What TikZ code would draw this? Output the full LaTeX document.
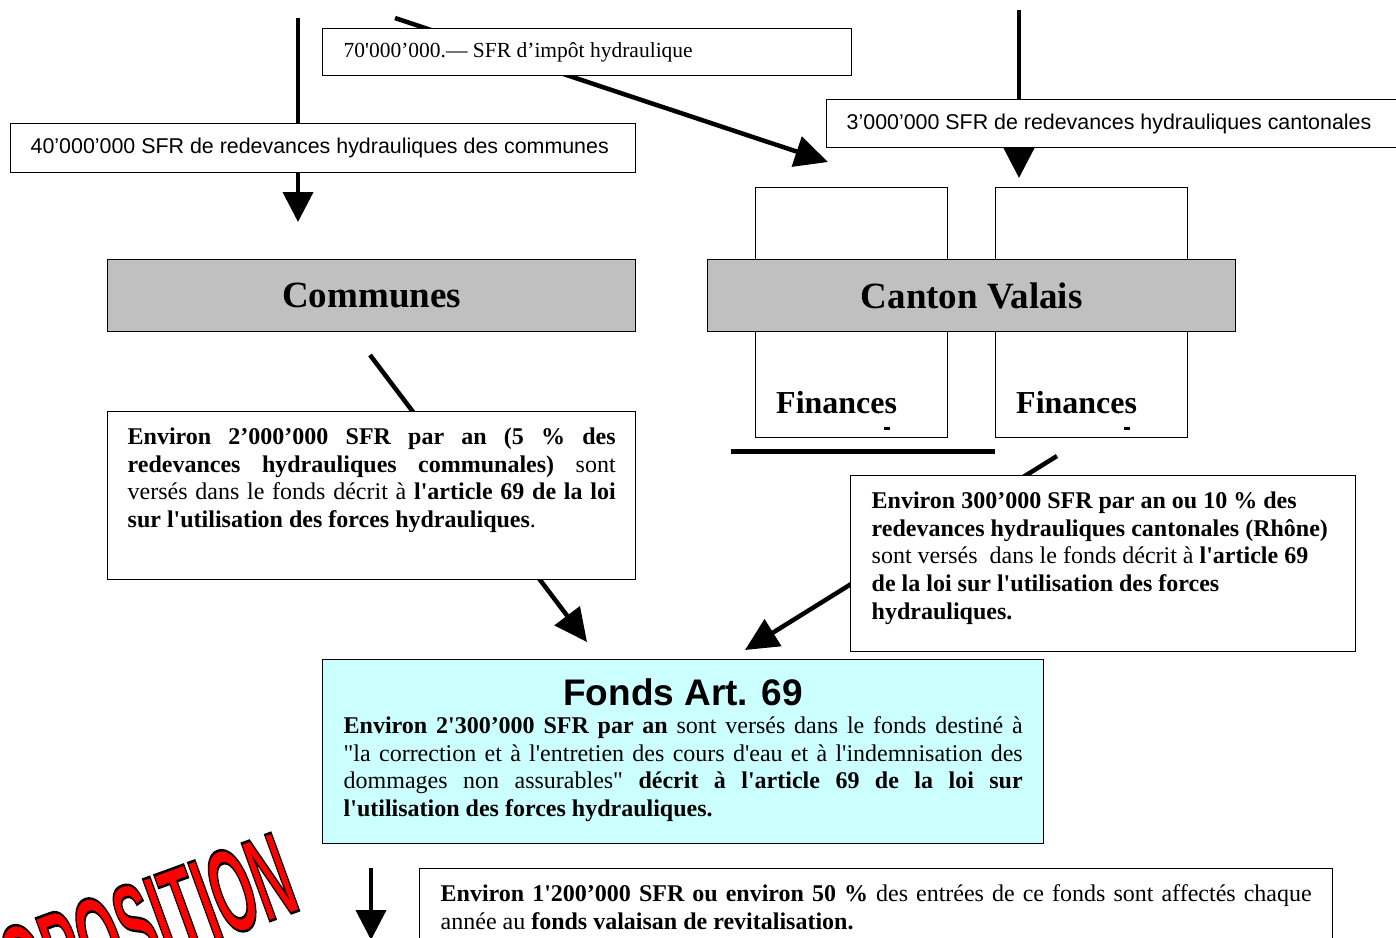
\documentclass[tikz,border=0pt]{standalone}
\usepackage{fontspec}
\setmainfont{Liberation Serif}
\newfontfamily\arialfont{Liberation Sans}
\usetikzlibrary{arrows.meta}
\definecolor{bandgrey}{HTML}{C0C0C0}
\definecolor{fondcyan}{HTML}{CCFFFF}
\definecolor{wordred}{HTML}{FF0000}
\newcommand{\sq}{\textquotesingle}
\newcommand{\dq}{\textquotedbl}
% red word art with black outline (PDF text rendering mode fill+stroke)
\newcommand{\wordartred}[1]{{\color{wordred}%
  \special{pdf:literal direct 0 0 0 RG 2.6 w 2 Tr}#1\special{pdf:literal direct 0 Tr}}}
\tikzset{
  box/.style={draw=black, line width=1.4pt, fill=white, inner sep=0pt, anchor=north west, rectangle},
  band/.style={box, fill=bandgrey, font=\bfseries\fontsize{37}{37}\selectfont},
  flow/.style={line width=4.5pt, -{Triangle[length=33pt,width=31pt]}},
  vflow/.style={line width=4pt, -{Triangle[length=30pt,width=30pt]}},
  body/.style={font=\fontsize{24}{27.8}\selectfont},
  arialtxt/.style={font=\arialfont\fontsize{21.4}{25}\selectfont},
  fin/.style={font=\bfseries\fontsize{32}{32}\selectfont, anchor=base west, inner sep=0pt},
}
\begin{document}
\begin{tikzpicture}[x=1pt,y=-1pt]
\useasboundingbox (0,0) rectangle (1396,937);
\clip (0,0) rectangle (1396,937);
\fill[white] (0,0) rectangle (1396,937);

% connector end points
\coordinate (a1s) at (298,18);   \coordinate (a1e) at (298,222);
\coordinate (a2s) at (395,18);   \coordinate (a2e) at (828,162);
\coordinate (a3s) at (1019,10);  \coordinate (a3e) at (1019,178);
\coordinate (a4s) at (370,355);  \coordinate (a4e) at (587,642);
\coordinate (a5s) at (1057,456); \coordinate (a5e) at (745,650);
\coordinate (a6s) at (371,868);  \coordinate (a6e) at (371,940);
\coordinate (bl1) at (731,451);  \coordinate (bl2) at (995,451);

% connectors (behind boxes)
\draw[vflow] (a1s) -- (a1e);
\draw[flow] (a2s) -- (a2e);
\draw[vflow] (a3s) -- (a3e);
\draw[flow] (a4s) -- (a4e);
\draw[flow] (a5s) -- (a5e);
\draw[vflow] (a6s) -- (a6e);
\draw[line width=5pt] (bl1) -- (bl2);

% top labels
\node[box, minimum width=529pt, minimum height=47pt, font=\fontsize{21.5}{25}\selectfont] (impot) at (322,28)
  {\parbox{487pt}{70\sq000’000.— SFR d’impôt hydraulique}};
\node[box, minimum width=625pt, minimum height=49pt, arialtxt] (redcom) at (10,123)
  {\parbox{585pt}{40’000’000 SFR de redevances hydrauliques des communes}};
\node[box, minimum width=600pt, minimum height=48pt, arialtxt] (redcant) at (826,99)
  {\parbox{560pt}{3’000’000 SFR de redevances hydrauliques cantonales}};

% Finances boxes
\node[box, minimum width=192pt, minimum height=250pt] (fin1) at (755,187) {};
\node[box, minimum width=192pt, minimum height=250pt] (fin2) at (995,187) {};
\node[fin] (fin1t) at (776,413) {Finances};
\node[fin] (fin2t) at (1016,413) {Finances};
\fill (884,427) rectangle (890,429.5);
\fill (1124,427) rectangle (1130,429.5);

% bands
\node[band, minimum width=528pt, minimum height=72pt] (communes) at (107,259) {Communes};
\node[band, minimum width=528pt, minimum height=72pt] (canton) at (707,259) {Canton Valais};

% communal box
\node[box, minimum width=528pt, minimum height=168pt, body] (comm) at (107,411)
  {\parbox[c][168pt][t]{488pt}{\vspace*{16pt}%
  \textbf{Environ 2’000’000 SFR par an (5 \% des\linebreak redevances hydrauliques communales)} sont\linebreak
  versés dans le fonds décrit à \textbf{l\sq article 69 de la loi\linebreak sur l\sq utilisation des forces hydrauliques}.}};

% cantonal box
\node[box, minimum width=505pt, minimum height=176pt, body] (cant) at (850,475)
  {\parbox[c][176pt][t]{463pt}{\raggedright\vspace*{16pt}%
  \textbf{Environ 300’000 SFR par an ou 10 \% des}\\
  \textbf{redevances hydrauliques cantonales (Rhône)}\\
  sont versés\ \ dans le fonds décrit à \textbf{l\sq article 69}\\
  \textbf{de la loi sur l\sq utilisation des forces}\\
  \textbf{hydrauliques.}}};

% fonds box
\node[box, fill=fondcyan, minimum width=721pt, minimum height=184pt, body] (fonds) at (322,659)
  {\parbox[c][184pt][t]{679pt}{\vspace*{19pt}%
  {\centering\arialfont\bfseries\fontsize{37}{37}\selectfont Fonds Art. 69\par}\vspace{0pt}%
  \textbf{Environ 2\sq300’000 SFR par an} sont versés dans le fonds destiné à\linebreak
  \dq la correction et à l\sq entretien des cours d\sq eau et à l\sq indemnisation des\linebreak
  dommages non assurables\dq\ \textbf{décrit à l\sq article 69 de la loi sur\linebreak
  l\sq utilisation des forces hydrauliques.}}};

% bottom box
\node[box, minimum width=913pt, minimum height=100pt, body] (revit) at (419,868)
  {\parbox[c][100pt][t]{871pt}{\vspace*{16pt}%
  \textbf{Environ 1\sq200’000 SFR ou environ 50 \%} des entrées de ce fonds sont affectés chaque\linebreak
  année au \textbf{fonds valaisan de revitalisation.}}};

% PROPOSITION word art
\node[anchor=base east, rotate=20, inner sep=0pt] (prop) at (303,909)
  {\scalebox{0.45}[1]{\arialfont\bfseries\fontsize{120}{120}\selectfont
   \wordartred{PROPOSITION}}};
\end{tikzpicture}
\end{document}
